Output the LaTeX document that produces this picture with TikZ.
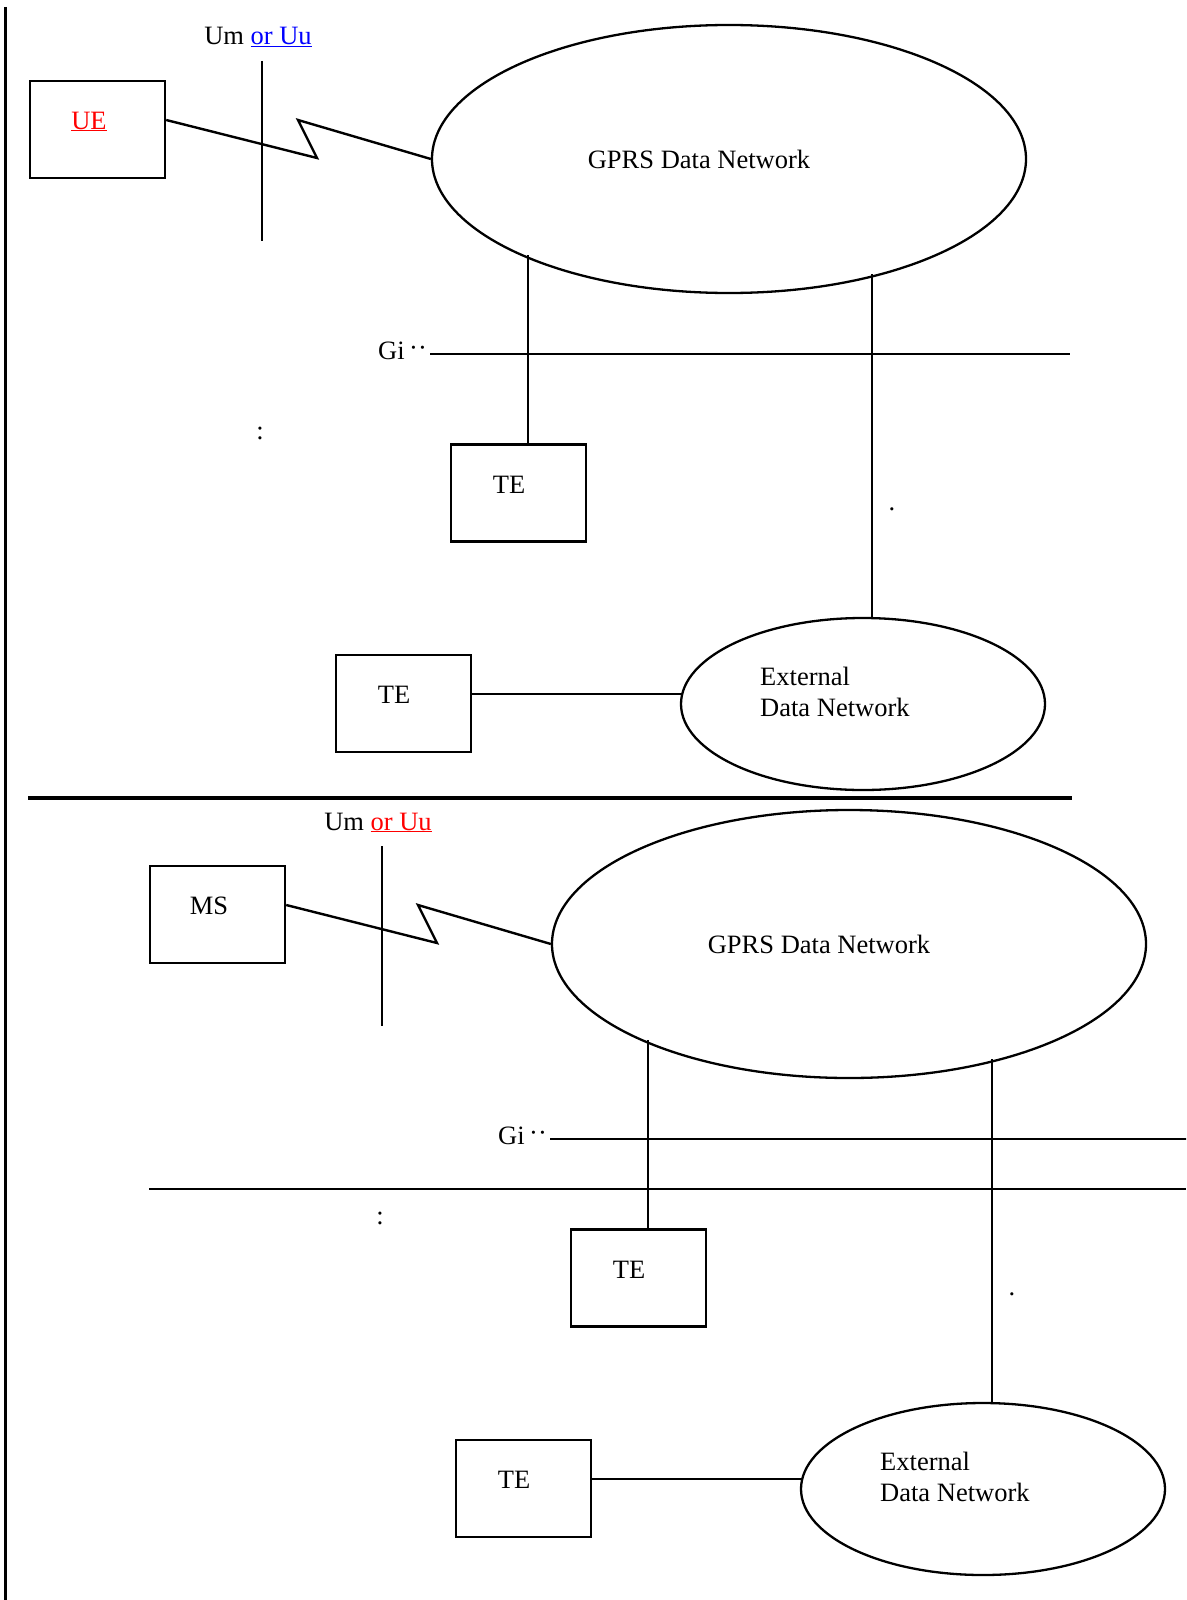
\documentclass[tikz,border=0pt]{standalone}
\usepackage{fontspec}
\setmainfont{Liberation Serif}
\usetikzlibrary{shapes.geometric,calc}
\tikzset{
  box/.style={draw,line width=2.4pt,minimum width=135pt,minimum height=97pt,inner sep=0pt},
  ell/.style={draw,ellipse,line width=2.3pt,inner sep=0pt},
  txt/.style={inner sep=0pt,font=\fontsize{26.5}{31}\selectfont},
  conn/.style={line width=2.4pt},
  thinln/.style={line width=1.1pt},
}
\newcommand\gprsSection[3]{%
  % UE / MS box
  \node[box] (#1-ue) at (97.5,129.5) {};
  \node[txt,anchor=base] (#1-uet) at (89,129) {#2};
  % Um or Uu label and interface line
  \node[txt,anchor=base] (#1-um) at (258,45) {Um {\color{#3}\underline{or Uu}}};
  \coordinate (#1-umtop) at (262,61);
  \coordinate (#1-umbot) at (262,241);
  \draw[thinln] (#1-umtop) -- (#1-umbot);
  % GPRS data network
  \node[ell,minimum width=594pt,minimum height=268pt] (#1-gprs) at (729,159) {};
  \node[txt,anchor=base] (#1-gprst) at (699,168) {GPRS Data Network};
  % radio zigzag
  \coordinate (#1-z1) at (317,158);
  \coordinate (#1-z2) at (298,120);
  \draw[conn,line join=miter] (#1-ue.east |- #1-z2) -- (#1-z1) -- (#1-z2) -- (#1-gprs.west);
  % TE 1
  \node[box] (#1-te1) at (518.5,493) {};
  \node[txt,anchor=base] (#1-te1t) at (509,493) {TE};
  % External data network
  \node[ell,minimum width=364pt,minimum height=172pt] (#1-ext) at (863,704) {};
  \node[txt,anchor=base west] (#1-extt1) at (760,685) {External};
  \node[txt,anchor=base west] (#1-extt2) at (760,716) {Data Network};
  % TE 2
  \node[box] (#1-te2) at (403.5,703.5) {};
  \node[txt,anchor=base] (#1-te2t) at (394,703) {TE};
  % connectors
  \coordinate (#1-g1) at (528,255);
  \draw[conn] (#1-g1) -- (#1-g1 |- #1-te1.north);
  \coordinate (#1-g2) at (872,274);
  \draw[conn] (#1-g2) -- (#1-g2 |- #1-ext.north);
  \coordinate (#1-e2) at (682,694);
  \draw[conn] (#1-e2 -| #1-te2.east) -- (#1-e2);
  % Gi
  \node[txt,anchor=base west] (#1-gi) at (378,359) {Gi};
  \node[txt,anchor=base] (#1-gidots) at (418,356) {··};
  \coordinate (#1-gia) at (430,354);
  \coordinate (#1-gib) at (1070,354);
  \draw[thinln] (#1-gia) -- (#1-gib);
  % stray marks
  \node[txt,anchor=base] (#1-colon) at (260,439) {:};
  \node[txt,anchor=base] (#1-dot) at (892,510) {.};
}
\begin{document}
\begin{tikzpicture}[x=1pt,y=-1pt]
\useasboundingbox (0,0) rectangle (1186,1600);
\clip (0,0) rectangle (1186,1600);
\fill[white] (0,0) rectangle (1186,1600);
% left border line
\coordinate (lt) at (5,7);
\coordinate (lb) at (5,1600);
\draw[line width=3pt] (lt) -- (lb);
% top section
\begin{scope}
  \gprsSection{t}{{\color{red}\underline{UE}}}{blue}
\end{scope}
% separator
\coordinate (sepa) at (28,798);
\coordinate (sepb) at (1072,798);
\draw[line width=3.3pt] (sepa) -- (sepb);
% bottom section
\begin{scope}[shift={(120,785)}]
  \gprsSection{b}{MS}{red}
\end{scope}
\coordinate (hla) at (149,1189);
\coordinate (hlb) at (1186,1189);
\draw[conn] (hla) -- (hlb);
\end{tikzpicture}
\end{document}
